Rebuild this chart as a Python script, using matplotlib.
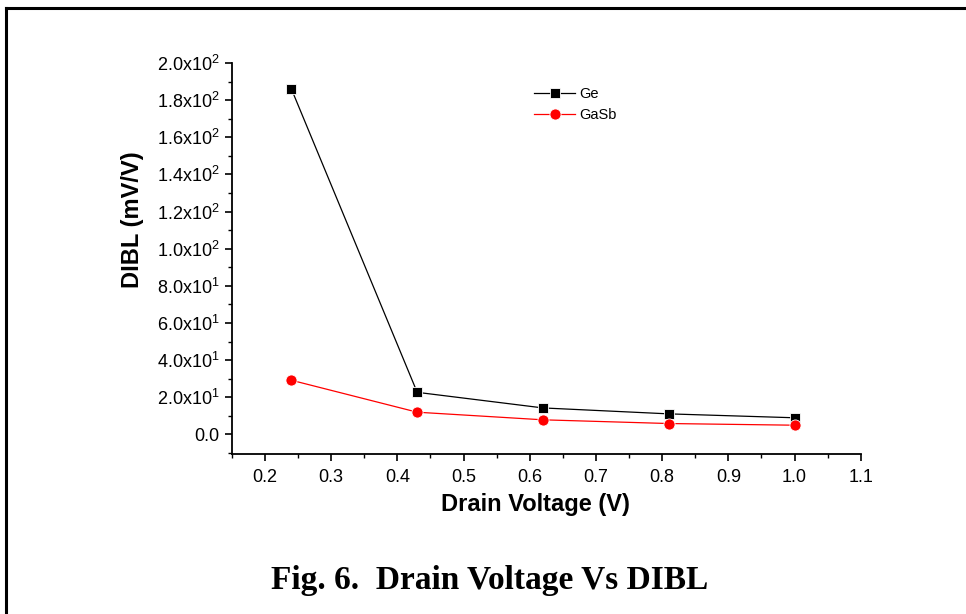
import matplotlib
matplotlib.use("Agg")
import matplotlib.pyplot as plt
from matplotlib.lines import Line2D
from matplotlib.ticker import MultipleLocator, FuncFormatter

plt.rcParams['font.family'] = ['Liberation Sans', 'DejaVu Sans']
plt.rcParams['mathtext.fontset'] = 'custom'
plt.rcParams['mathtext.rm'] = 'Liberation Sans'

# data
drain_voltage = [0.24, 0.43, 0.62, 0.81, 1.0]
dibl_ge = [186, 22.7, 14.3, 11.1, 9.0]
dibl_gasb = [29.2, 12.0, 7.9, 5.9, 5.0]

fig = plt.figure(figsize=(9.66, 6.14), dpi=100)
ax = fig.add_axes([0.240, 0.2606, 0.651, 0.6368])

ax.plot(drain_voltage, dibl_ge, color='black', lw=0.9, marker='s', ms=7,
        mfc='black', mec='white', mew=0.6, label='Ge')
ax.plot(drain_voltage, dibl_gasb, color='red', lw=0.9, marker='o', ms=8,
        mfc='red', mec='white', mew=0.6, label='GaSb')

ax.set_xlim(0.15, 1.1)
ax.set_ylim(-10.5, 200)
ax.xaxis.set_major_locator(MultipleLocator(0.1))
ax.xaxis.set_minor_locator(MultipleLocator(0.05))
ax.yaxis.set_major_locator(MultipleLocator(20))
ax.yaxis.set_minor_locator(MultipleLocator(10))


def sci(v, pos):
    if abs(v) < 1e-9:
        return '0.0'
    if v < 0:
        return ''
    e = 0
    m = v
    while m >= 10:
        m /= 10
        e += 1
    return '%.1fx10$^{%d}$' % (m, e)


ax.yaxis.set_major_formatter(FuncFormatter(sci))
ax.xaxis.set_major_formatter(FuncFormatter(lambda v, p: '%.1f' % v))

for s in ['top', 'right']:
    ax.spines[s].set_visible(False)
for s in ['left', 'bottom']:
    ax.spines[s].set_linewidth(1.3)
ax.tick_params(which='major', direction='out', length=5, width=1.2, labelsize=13)
ax.tick_params(axis='x', which='major', pad=6)
ax.tick_params(axis='y', which='major', pad=4)
ax.tick_params(which='minor', direction='out', length=3, width=1.0)

ax.set_xlabel('Drain Voltage (V)', fontsize=17, fontweight='bold')
ax.set_ylabel('DIBL (mV/V)', fontsize=17, fontweight='bold')
ax.xaxis.set_label_coords(0.483, -0.10)
ax.yaxis.set_label_coords(-0.140, 0.60)

leg = ax.legend(loc='upper left', bbox_to_anchor=(0.460, 0.972), frameon=False,
                fontsize=10.5, handlelength=2.8, handletextpad=0.3, labelspacing=0.5)

# caption and page border
fig.text(0.507, 0.055, 'Fig. 6.  Drain Voltage Vs DIBL', ha='center', va='center',
         fontsize=24, fontweight='bold', family=['Liberation Serif', 'DejaVu Serif'])
fig.add_artist(Line2D([0.006, 1.0], [1 - 8 / 614, 1 - 8 / 614], color='black', lw=2.2))
fig.add_artist(Line2D([0.006, 0.006], [0.0, 1 - 8 / 614], color='black', lw=2.2))

fig.savefig('out.png', dpi=100)
